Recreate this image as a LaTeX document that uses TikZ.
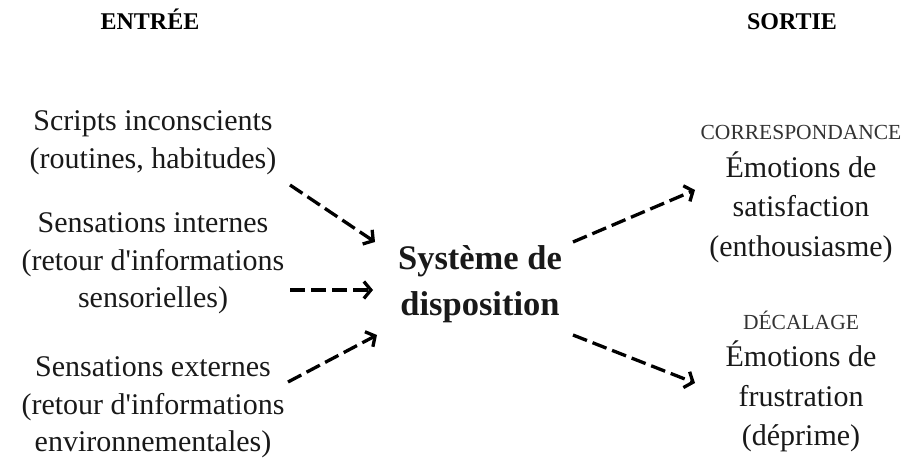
\documentclass[tikz,border=0pt]{standalone}
\usepackage{fontspec}
\setmainfont{Liberation Serif}
\usetikzlibrary{arrows.meta}
\begin{document}
\begin{tikzpicture}[x=1pt,y=-1pt,
  txt/.style={inner sep=0pt, align=center, anchor=north, text=black!90},
  lefttxt/.style={txt, font=\fontsize{30}{37.5}\selectfont},
  righttxt/.style={txt, font=\fontsize{30}{39.5}\selectfont},
  head/.style={inner sep=0pt, anchor=base, font=\fontsize{24}{28}\selectfont\bfseries},
  tag/.style={inner sep=0pt, anchor=base, text=black!80, font=\fontsize{21.5}{26}\selectfont},
  core/.style={txt, font=\fontsize{34.5}{46}\selectfont\bfseries},
  conn/.style={line width=3.3pt, dash pattern=on 15pt off 6pt,
    -{Straight Barb[length=7pt,width=17pt,line width=3.3pt]}}]
\useasboundingbox (0,0) rectangle (910,462);
\node[head] (entree) at (150,30) {ENTRÉE};
\node[head] (sortie) at (792,30) {SORTIE};
\node[lefttxt] (in1) at (153,110.5) {Scripts inconscients\\(routines, habitudes)};
\node[lefttxt] (in2) at (153,212.5) {Sensations internes\\(retour d\textquotesingle informations\\sensorielles)};
\node[lefttxt] (in3) at (153,356.5) {Sensations externes\\(retour d\textquotesingle informations\\environnementales)};
\node[core] (sys) at (480,245) {Système de\\disposition};
\node[tag] (corr) at (801,140) {CORRESPONDANCE};
\node[righttxt] (out1) at (801,151.3) {Émotions de\\satisfaction\\(enthousiasme)};
\node[tag] (dec) at (801,330) {DÉCALAGE};
\node[righttxt] (out2) at (801,341) {Émotions de\\frustration\\(déprime)};
\coordinate (a1s) at (290,185);
\coordinate (a1e) at (375,242);
\coordinate (a2s) at (290,290);
\coordinate (a2e) at (373,290);
\coordinate (a3s) at (288,382);
\coordinate (a3e) at (377,335);
\coordinate (a4s) at (573,242);
\coordinate (a4e) at (695,190);
\coordinate (a5s) at (573,335);
\coordinate (a5e) at (695,383);
\draw[conn] (a1s) -- (a1e);
\draw[conn] (a2s) -- (a2e);
\draw[conn] (a3s) -- (a3e);
\draw[conn] (a4s) -- (a4e);
\draw[conn] (a5s) -- (a5e);
\end{tikzpicture}
\end{document}
